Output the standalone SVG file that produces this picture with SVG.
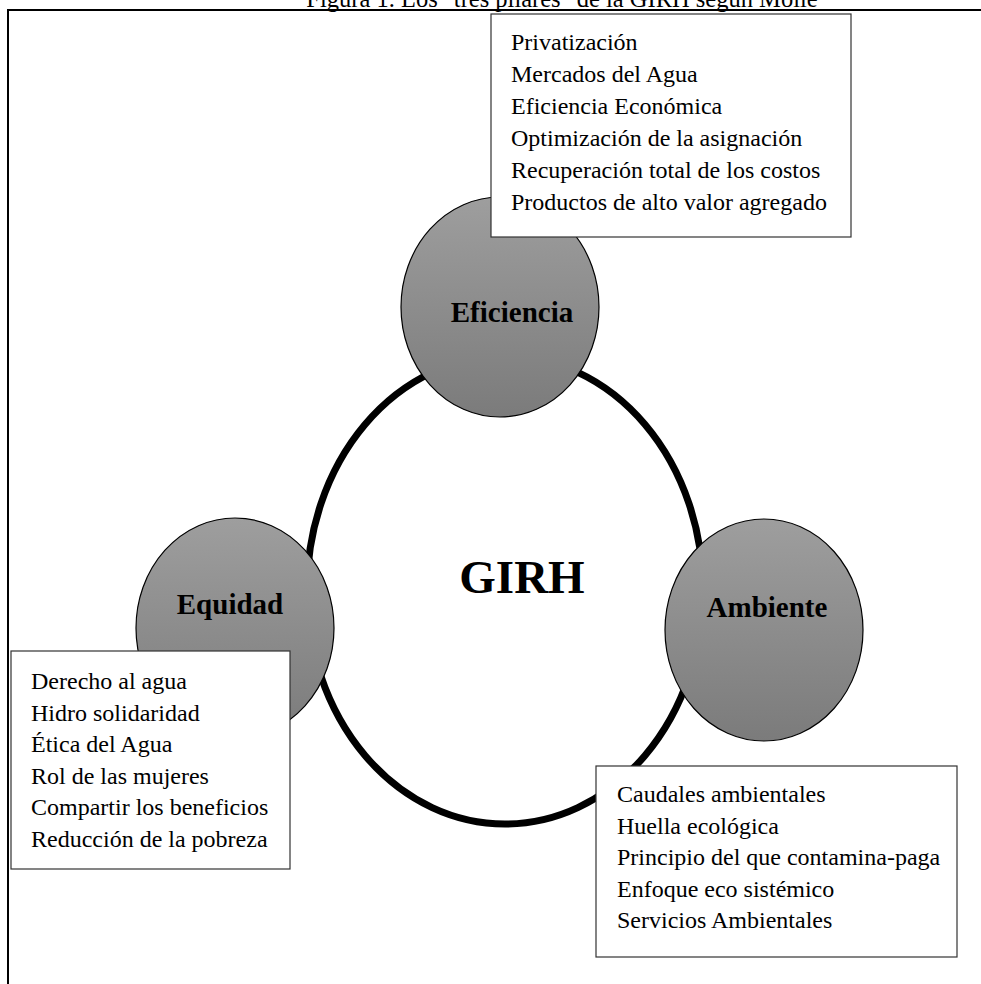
<svg xmlns="http://www.w3.org/2000/svg" width="981" height="984" viewBox="0 0 981 984">
<style>
.frame{stroke:#000;stroke-width:2;fill:none}
.pillar{fill:url(#g);stroke:#000;stroke-width:1.2}
.box{fill:#fff;stroke:#333;stroke-width:1.2}
.lbl{font-family:"Liberation Serif","Times New Roman",serif;font-weight:bold;font-size:29px;fill:#000;text-anchor:middle}
.item{font-family:"Liberation Serif","Times New Roman",serif;font-size:24px;fill:#000}
.title{font-family:"Liberation Serif","Times New Roman",serif;font-size:24.5px;fill:#000;text-anchor:middle}
</style>
<defs>
<linearGradient id="g" x1="0" y1="0" x2="0" y2="1">
<stop offset="0" stop-color="#9e9e9e"/>
<stop offset="1" stop-color="#7b7b7b"/>
</linearGradient>
</defs>
<rect width="981" height="984" fill="#fff"/>
<g id="frame">
<line class="frame" x1="8" y1="10" x2="981" y2="10"/>
<line class="frame" x1="8" y1="9" x2="8" y2="984"/>
</g>
<text class="title" x="562" y="7">Figura 1. Los "tres pilares" de la GIRH según Molle</text>
<g id="connectors"></g>
<g id="girh">
<ellipse cx="505" cy="590" rx="198" ry="234" fill="none" stroke="#000" stroke-width="7"/>
<text x="522" y="593" style="font-family:'Liberation Serif','Times New Roman',serif;font-weight:bold;font-size:47px;text-anchor:middle">GIRH</text>
</g>
<g id="eficiencia">
<ellipse class="pillar" cx="500" cy="307" rx="99" ry="110"/>
<text class="lbl" x="512" y="322">Eficiencia</text>
</g>
<g id="equidad">
<ellipse class="pillar" cx="235" cy="628" rx="99" ry="110"/>
<text class="lbl" x="230" y="614">Equidad</text>
</g>
<g id="ambiente">
<ellipse class="pillar" cx="764" cy="630" rx="99" ry="111"/>
<text class="lbl" x="767" y="617">Ambiente</text>
</g>
<g id="box-eficiencia">
<rect class="box" x="491" y="14" width="360" height="223"/>
<text class="item" x="511" y="50">Privatización</text>
<text class="item" x="511" y="82">Mercados del Agua</text>
<text class="item" x="511" y="114">Eficiencia Económica</text>
<text class="item" x="511" y="146">Optimización de la asignación</text>
<text class="item" x="511" y="178">Recuperación total de los costos</text>
<text class="item" x="511" y="210">Productos de alto valor agregado</text>
</g>
<g id="box-equidad">
<rect class="box" x="11" y="651" width="279" height="218"/>
<text class="item" x="31" y="689">Derecho al agua</text>
<text class="item" x="31" y="720.6">Hidro solidaridad</text>
<text class="item" x="31" y="752.2">Ética del Agua</text>
<text class="item" x="31" y="783.8">Rol de las mujeres</text>
<text class="item" x="31" y="815.4">Compartir los beneficios</text>
<text class="item" x="31" y="847">Reducción de la pobreza</text>
</g>
<g id="box-ambiente">
<rect class="box" x="596" y="766" width="361" height="191"/>
<text class="item" x="617" y="802">Caudales ambientales</text>
<text class="item" x="617" y="833.5">Huella ecológica</text>
<text class="item" x="617" y="865">Principio del que contamina-paga</text>
<text class="item" x="617" y="896.5">Enfoque eco sistémico</text>
<text class="item" x="617" y="928">Servicios Ambientales</text>
</g>
</svg>
